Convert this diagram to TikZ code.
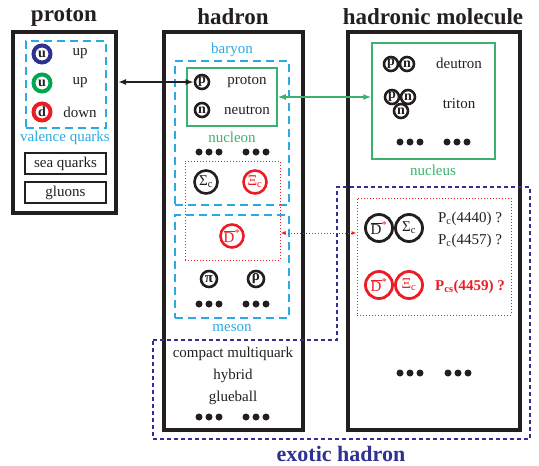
\documentclass[tikz,border=0pt]{standalone}
\usepackage{fontspec}
\setmainfont{Liberation Serif}
\usepackage{tikz}
\usetikzlibrary{arrows.meta}
\definecolor{navy1}{HTML}{2E3192}
\definecolor{green1}{HTML}{00A651}
\definecolor{green2}{HTML}{3AB26E}
\definecolor{red1}{HTML}{ED1C24}
\definecolor{cyan1}{HTML}{29ABE2}
\definecolor{black1}{HTML}{231F20}
\tikzset{
  title/.style={font=\fontsize{23}{27}\selectfont\bfseries, text=black1},
  txt/.style={font=\fontsize{15}{18}\selectfont, text=black1},
  lbl/.style={font=\fontsize{15}{18}\selectfont},
  frame/.style={draw=black1, line width=4, inner sep=0},
  plainbox/.style={draw=black1, line width=1.5, inner sep=0, font=\fontsize{15}{18}\selectfont, text=black1},
  cyanbox/.style={draw=cyan1, line width=2.5, dash pattern=on 8 off 5, inner sep=0},
  greenbox/.style={draw=green2, line width=1.5, inner sep=0},
  redbox/.style={draw=red1, line width=1, dotted, inner sep=0},
  quark/.style={circle, line width=4, inner sep=0, minimum size=17, font=\fontsize{14}{14}\selectfont\bfseries, text=black1},
  nucl/.style={circle, draw=black1, line width=2.6, inner sep=0, minimum size=14, font=\fontsize{14}{14}\selectfont\bfseries, text=black1},
  hadr/.style={circle, draw=black1, line width=2.6, inner sep=0, minimum size=23, font=\fontsize{15}{15}\selectfont, text=black1},
  mol/.style={circle, draw=black1, line width=2.8, inner sep=0, minimum size=27, font=\fontsize{15}{15}\selectfont, text=black1},
  biarrow/.style={{Latex[length=8,width=6]}-{Latex[length=8,width=6]}},
}
\newcommand{\Dstar}{\ensuremath{\overline{\mbox{D}}}{\color{red1}\textsuperscript{*}}}
\begin{document}
\begin{tikzpicture}[x=1pt,y=-1pt]
\useasboundingbox (0,0) rectangle (539,466);
% titles
\node[title] (tproton) at (64,17) {proton};
\node[title] (thadron) at (233,17) {hadron};
\node[title] (tmolecule) at (433,17) {hadronic molecule};
% frames
\node[frame, minimum width=103, minimum height=181] (fproton) at (64.5,122.5) {};
\node[frame, minimum width=139, minimum height=398] (fhadron) at (233,231) {};
\node[frame, minimum width=172, minimum height=398] (fmolecule) at (434,231) {};

% proton
\node[cyanbox, minimum width=80, minimum height=87] (valence) at (66,84.5) {};
\node[quark, draw=navy1] (qu1) at (42,54) {u};
\node[txt] (tu1) at (80,54) {up};
\node[quark, draw=green1] (qu2) at (42,83) {u};
\node[txt] (tu2) at (80,83) {up};
\node[quark, draw=red1] (qd) at (42,112) {d};
\node[txt] (td) at (80,112) {down};
\node[lbl, text=cyan1] (lvalence) at (65,138) {valence quarks};
\node[plainbox, minimum width=81, minimum height=21] (sea) at (65.5,163.5) {sea quarks};
\node[plainbox, minimum width=81, minimum height=21] (gluons) at (65.5,192.5) {gluons};

% hadron
\node[lbl, text=cyan1] (lbaryon) at (232,50) {baryon};
\node[cyanbox, minimum width=114, minimum height=144] (baryon) at (232,133) {};
\node[cyanbox, minimum width=114, minimum height=103] (meson) at (232,266.5) {};
\node[lbl, text=cyan1] (lmeson) at (232,328) {meson};
\node[greenbox, minimum width=90, minimum height=58] (nucleon) at (232,97) {};
\node[nucl] (hp) at (202,82) {p};
\node[txt] (thp) at (247,82) {proton};
\node[nucl] (hn) at (202,110) {n};
\node[txt] (thn) at (247,110) {neutron};
\node[lbl, text=green2] (lnucleon) at (232,137) {nucleon};
\node[redbox, minimum width=95, minimum height=99] (hexotic) at (232.5,210.5) {};
\node[hadr] (sigma) at (206,182) {Σ\textsubscript{c}};
\node[hadr, draw=red1, text=red1] (xi) at (255,182) {Ξ\textsubscript{c}};
\node[hadr, draw=red1, text=red1] (dbar) at (232,236) {\Dstar};
\node[hadr, minimum size=16] (pion) at (209,279) {\bfseries π};
\node[hadr, minimum size=16] (rho) at (256,279) {\bfseries ρ};
\node[txt] (tcompact) at (233,354) {compact multiquark};
\node[txt] (thybrid) at (233,376) {hybrid};
\node[txt] (tglue) at (233,398) {glueball};

% hadronic molecule
\node[greenbox, minimum width=123, minimum height=116] (nucleus) at (433.5,101) {};
\node[lbl, text=green2] (lnucleus) at (433,170) {nucleus};
\node[nucl] (dp) at (391,64) {p};
\node[nucl] (dn) at (407,64) {n};
\node[txt] (tdeut) at (459,63) {deutron};
\node[nucl] (tn2) at (401,111) {n};
\node[nucl] (tp) at (392,97) {p};
\node[nucl] (tn1) at (408,97) {n};
\node[txt] (ttrit) at (459,104) {triton};
\node[redbox, minimum width=154, minimum height=117] (mexotic) at (434,256.5) {};
\node[mol] (mdbar1) at (379,228) {\Dstar};
\node[mol] (msigma) at (409,228) {Σ\textsubscript{c}};
\node[txt] (tpc1) at (470,219) {P\textsubscript{c}(4440) ?};
\node[txt] (tpc2) at (470,241) {P\textsubscript{c}(4457) ?};
\node[mol, draw=red1, text=red1] (mdbar2) at (379,285) {\Dstar};
\node[mol, draw=red1, text=red1] (mxi) at (409,285) {Ξ\textsubscript{c}};
\node[txt, text=red1, font=\fontsize{15}{18}\selectfont\bfseries] (tpcs) at (470,287) {P\textsubscript{cs}(4459) ?};

% dots
\foreach \cx/\cy in {209/152, 256/152, 209/304, 256/304, 209/417, 256/417, 410/142, 457/142, 410/373, 458/373}
  \foreach \k in {-10,0,10}
    \fill[black1] (\cx+\k,\cy) circle (3.5);

% exotic hadron
\draw[navy1, line width=2.5, dash pattern=on 4 off 3] (153,340) -- (337,340) -- (337,187) -- (530,187) -- (530,439) -- (153,439) -- cycle;
\node[title, text=navy1, inner sep=0, font=\fontsize{22}{26}\selectfont\bfseries] (lexotic) at (341,454) {exotic hadron};

% connections
\coordinate (rlevel) at (0,233);
\draw[biarrow, black1, line width=1.8] (fproton.east |- hp) -- (hp);
\draw[biarrow, green2, line width=1.4] (nucleon.east) -- (nucleus.west |- nucleon.east);
\draw[{Latex[length=5,width=4]}-{Latex[length=5,width=4]}, red1, line width=1, dotted] (hexotic.east |- rlevel) -- (mexotic.west |- rlevel);
\end{tikzpicture}
\end{document}
